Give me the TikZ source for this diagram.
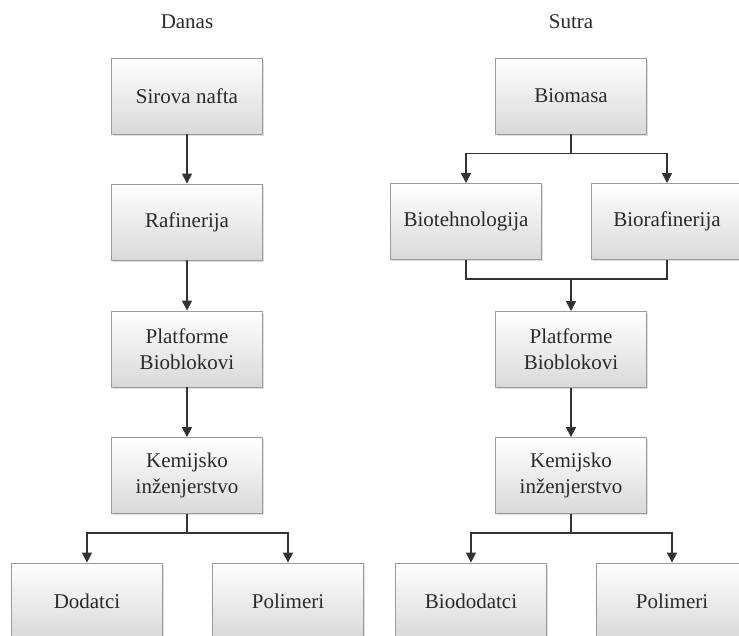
\documentclass[tikz,border=0pt]{standalone}
\usepackage{fontspec}
\setmainfont{Liberation Serif}
\usetikzlibrary{arrows.meta,shadows}
\definecolor{txt}{HTML}{2A2A2A}
\definecolor{edge}{HTML}{9A9A9A}
\definecolor{wire}{HTML}{333333}
\tikzset{
  box/.style={draw=edge, line width=0.9pt, top color=white, bottom color=black!15,
    minimum width=151pt, minimum height=76pt, align=center, inner sep=2pt,
    text=txt, font=\fontsize{21}{26}\selectfont,
    drop shadow={opacity=0.25, shadow xshift=1.5pt, shadow yshift=-1.5pt}},
  title/.style={text=txt, font=\fontsize{21}{26}\selectfont},
  wireline/.style={draw=wire, line width=1.6pt},
  arr/.style={wireline, -{Triangle[length=10pt,width=10pt]}}
}
\begin{document}
\begin{tikzpicture}[x=1pt,y=1pt]
\useasboundingbox (0,0) rectangle (739,-635);
\clip (0,0) rectangle (739,-635);
% titles
\node[title] (danas) at (187,-22) {Danas};
\node[title] (sutra) at (571,-22) {Sutra};
% left column
\node[box] (sirova) at (187,-96) {Sirova nafta};
\node[box] (rafin) at (187,-222) {Rafinerija};
\node[box] (platL) at (187,-349) {Platforme\\Bioblokovi};
\node[box] (kemL) at (187,-475.5) {Kemijsko\\inženjerstvo};
\node[box] (dod) at (87,-601) {Dodatci};
\node[box] (polL) at (288,-601) {Polimeri};
% right column
\node[box] (biomasa) at (571,-96) {Biomasa};
\node[box] (biotech) at (466,-221.5) {Biotehnologija};
\node[box] (biorafin) at (667,-221.5) {Biorafinerija};
\node[box] (platR) at (571,-349.5) {Platforme\\Bioblokovi};
\node[box] (kemR) at (571,-475.5) {Kemijsko\\inženjerstvo};
\node[box] (biodod) at (471,-601) {Biododatci};
\node[box] (polR) at (672,-601) {Polimeri};
% left connectors
\draw[arr] (sirova) -- (rafin);
\draw[arr] (rafin) -- (platL);
\draw[arr] (platL) -- (kemL);
\draw[wireline] (kemL.south) -- ++(0,-19) coordinate (jL);
\draw[arr] (jL) -| (dod.north);
\draw[arr] (jL) -| (polL.north);
% right connectors
\draw[wireline] (biomasa.south) -- ++(0,-19) coordinate (jR);
\draw[arr] (jR) -| (biotech.north);
\draw[arr] (jR) -| (biorafin.north);
\draw[wireline] (biotech.south) -- ++(0,-19) coordinate (mA) -| (biorafin.south);
\coordinate (mB) at (platR.north |- mA);
\draw[arr] (mB) -- (platR.north);
\draw[arr] (platR) -- (kemR);
\draw[wireline] (kemR.south) -- ++(0,-19) coordinate (jR2);
\draw[arr] (jR2) -| (biodod.north);
\draw[arr] (jR2) -| (polR.north);
\end{tikzpicture}
\end{document}
